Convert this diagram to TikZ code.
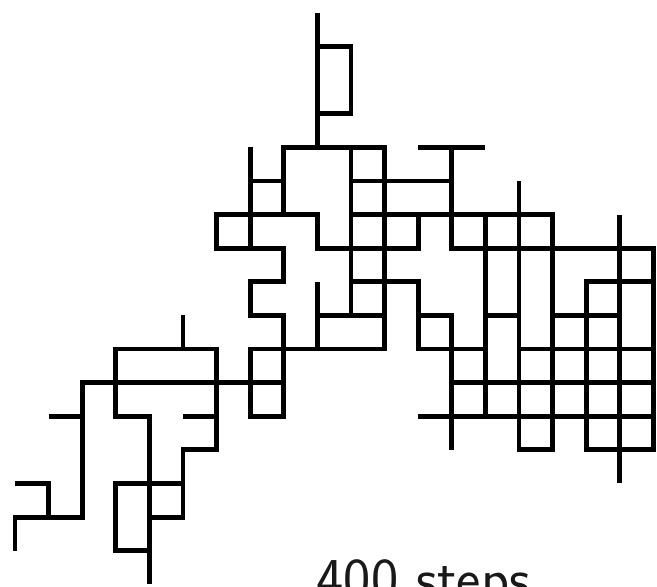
\documentclass[tikz,border=0pt]{standalone}
\usepackage{fontspec}
\usepackage{xcolor}
\usepackage{tikz}
\usetikzlibrary{positioning}
\definecolor{walkblack}{RGB}{0,0,0}

\begin{document}
\begin{tikzpicture}[
    every node/.style={font=\sffamily},
    walk/.style={draw=walkblack, line width=4.2pt, line join=miter, line cap=butt},
    step label/.style={anchor=base west, inner sep=0pt, text=black!90,
                       font=\sffamily\fontsize{49}{54}\selectfont},
    y=-1cm,
  ]
  % lattice unit = 1cm, j counts downwards
  \useasboundingbox (-0.446,-0.387) rectangle (19.107,17.054);

  % ============ TOP SPIKE ============
  \draw[walk] (9,0) -- (9,4);
  \draw[walk] (9,1) -- (10,1) -- (10,3) -- (9,3);

  % ============ CENTRE BLOCK ============
  \draw[walk] (8,6) -- (8,4) -- (11,4) -- (11,10) -- (8,10);
  \draw[walk] (12,4) -- (14,4);
  \draw[walk] (7,4) -- (7,7);
  \draw[walk] (7,5) -- (8,5);
  \draw[walk] (10,4) -- (10,9);
  \draw[walk] (10,5) -- (13,5);
  \draw[walk] (12,6) -- (12,7) -- (9,7) -- (9,6) -- (6,6) -- (6,7) -- (8,7)
              -- (8,8) -- (7,8) -- (7,9) -- (8,9) -- (8,12) -- (7,12)
              -- (7,10) -- (8,10);
  \draw[walk] (10,8) -- (12,8) -- (12,10) -- (14,10);
  \draw[walk] (9,8) -- (9,10);
  \draw[walk] (9,9) -- (11,9);

  % ============ RIGHT BLOCK ============
  \draw[walk] (13,4) -- (13,7) -- (19,7) -- (19,13) -- (17,13) -- (17,8) -- (19,8);
  \draw[walk] (10,6) -- (16,6) -- (16,13) -- (15,13) -- (15,5);
  \draw[walk] (12,9) -- (13,9) -- (13,13);
  \draw[walk] (14,6) -- (14,12);
  \draw[walk] (18,6) -- (18,14);
  \draw[walk] (14,9) -- (15,9);
  \draw[walk] (16,9) -- (18,9);
  \draw[walk] (15,10) -- (19,10);
  \draw[walk] (13,11) -- (19,11);
  \draw[walk] (12,12) -- (19,12);

  % ============ LEFT BLOCK ============
  \draw[walk] (8,11) -- (2,11) -- (2,15) -- (0,15) -- (0,16);
  \draw[walk] (4,15) -- (5,15) -- (5,13) -- (6,13) -- (6,10) -- (3,10)
              -- (3,12) -- (4,12) -- (4,17);
  \draw[walk] (5,9) -- (5,10);
  \draw[walk] (1,12) -- (2,12);
  \draw[walk] (5,12) -- (6,12);
  \draw[walk] (5,14) -- (3,14) -- (3,16) -- (4,16);
  \draw[walk] (0,14) -- (1,14) -- (1,15);

  % ============ LABEL ============
  \node[step label] (lbl) at (8.97,17.43) {400 steps};

\end{tikzpicture}
\end{document}
